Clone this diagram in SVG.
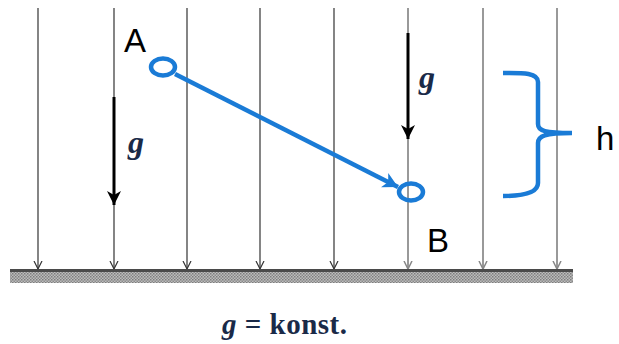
<svg xmlns="http://www.w3.org/2000/svg" width="619" height="344" viewBox="0 0 619 344">
<style>
.fl{stroke:#333;stroke-width:1.2;fill:none}
.fg{stroke:#999;stroke-width:2;fill:none}
.lbl{font-family:"Liberation Sans",Arial,sans-serif;font-size:33px;fill:#000}
.g{font-family:"Liberation Serif","Times New Roman",serif;font-style:italic;font-weight:bold;font-size:32px;fill:#1a2a48}
.blue{stroke:#1a7bd6;stroke-width:4.5;fill:none}
</style>
<defs>
<pattern id="hatch" width="3" height="3" patternUnits="userSpaceOnUse">
<rect width="3" height="3" fill="#bdbdbd"/>
<rect width="1.5" height="1.5" fill="#7d7d7d"/>
<rect x="1.5" y="1.5" width="1.5" height="1.5" fill="#8a8a8a"/>
</pattern>
<marker id="sa" markerWidth="10" markerHeight="10" refX="8" refY="5" orient="auto" markerUnits="userSpaceOnUse">
<path d="M0,1 L8,5 L0,9" fill="none" stroke="#333" stroke-width="1.2"/>
</marker>
<marker id="sag" markerWidth="10" markerHeight="10" refX="8" refY="5" orient="auto" markerUnits="userSpaceOnUse">
<path d="M0,1 L8,5 L0,9" fill="none" stroke="#888" stroke-width="1.5"/>
</marker>
<marker id="ba" markerWidth="16" markerHeight="16" refX="14" refY="8" orient="auto" markerUnits="userSpaceOnUse">
<path d="M0,1 L14,8 L0,15 L4,8 Z" fill="#000"/>
</marker>
<marker id="bl" markerWidth="18" markerHeight="18" refX="15" refY="9" orient="auto" markerUnits="userSpaceOnUse">
<path d="M0,1 L15,9 L0,17 L4,9 Z" fill="#1a7bd6"/>
</marker>
</defs>
<g id="field">
<line class="fl" x1="38" y1="8" x2="38" y2="269" marker-end="url(#sa)"/>
<line class="fl" x1="114" y1="8" x2="114" y2="269" marker-end="url(#sa)"/>
<line class="fl" x1="187" y1="8" x2="187" y2="269" marker-end="url(#sa)"/>
<line class="fl" x1="260" y1="8" x2="260" y2="269" marker-end="url(#sa)"/>
<line class="fl" x1="334" y1="8" x2="334" y2="269" marker-end="url(#sa)"/>
<line class="fg" x1="408" y1="8" x2="408" y2="269" marker-end="url(#sag)"/>
<line class="fg" x1="483" y1="8" x2="483" y2="269" marker-end="url(#sag)"/>
<line class="fg" x1="557" y1="8" x2="557" y2="269" marker-end="url(#sag)"/>
</g>
<g id="ground">
<rect x="10" y="270" width="563" height="13" fill="url(#hatch)"/>
<rect x="10" y="269" width="563" height="3" fill="#4a4a4a"/>
</g>
<g id="g-left">
<line x1="114" y1="97" x2="114" y2="205" stroke="#000" stroke-width="3" marker-end="url(#ba)"/>
<text class="g" x="128" y="153">g</text>
</g>
<g id="g-right">
<line x1="408" y1="33" x2="408" y2="139" stroke="#000" stroke-width="3" marker-end="url(#ba)"/>
<text class="g" x="419" y="88">g</text>
</g>
<g id="connectors">
<line class="blue" x1="175" y1="74" x2="398" y2="187" marker-end="url(#bl)"/>
</g>
<g id="A">
<ellipse class="blue" cx="163" cy="67" rx="12" ry="8.5" fill="#fff"/>
<text class="lbl" x="124" y="52">A</text>
</g>
<g id="B">
<ellipse class="blue" cx="411" cy="192" rx="12" ry="8.5" fill="#fff"/>
<text class="lbl" x="427" y="252">B</text>
</g>
<g id="h">
<path class="blue" d="M503,73 C520,73 538,72 538,82 L538,124 C538,131 545,133 572,133 C545,133 538,136 538,143 L538,183 C538,194 520,196 503,196"/>
<text class="lbl" x="596" y="150">h</text>
</g>
<g id="caption">
<text x="222" y="334" font-family="Liberation Serif,'Times New Roman',serif" font-weight="bold" font-size="29" letter-spacing="0.5" fill="#1a2a48"><tspan font-style="italic">g</tspan> = konst.</text>
</g>
</svg>
